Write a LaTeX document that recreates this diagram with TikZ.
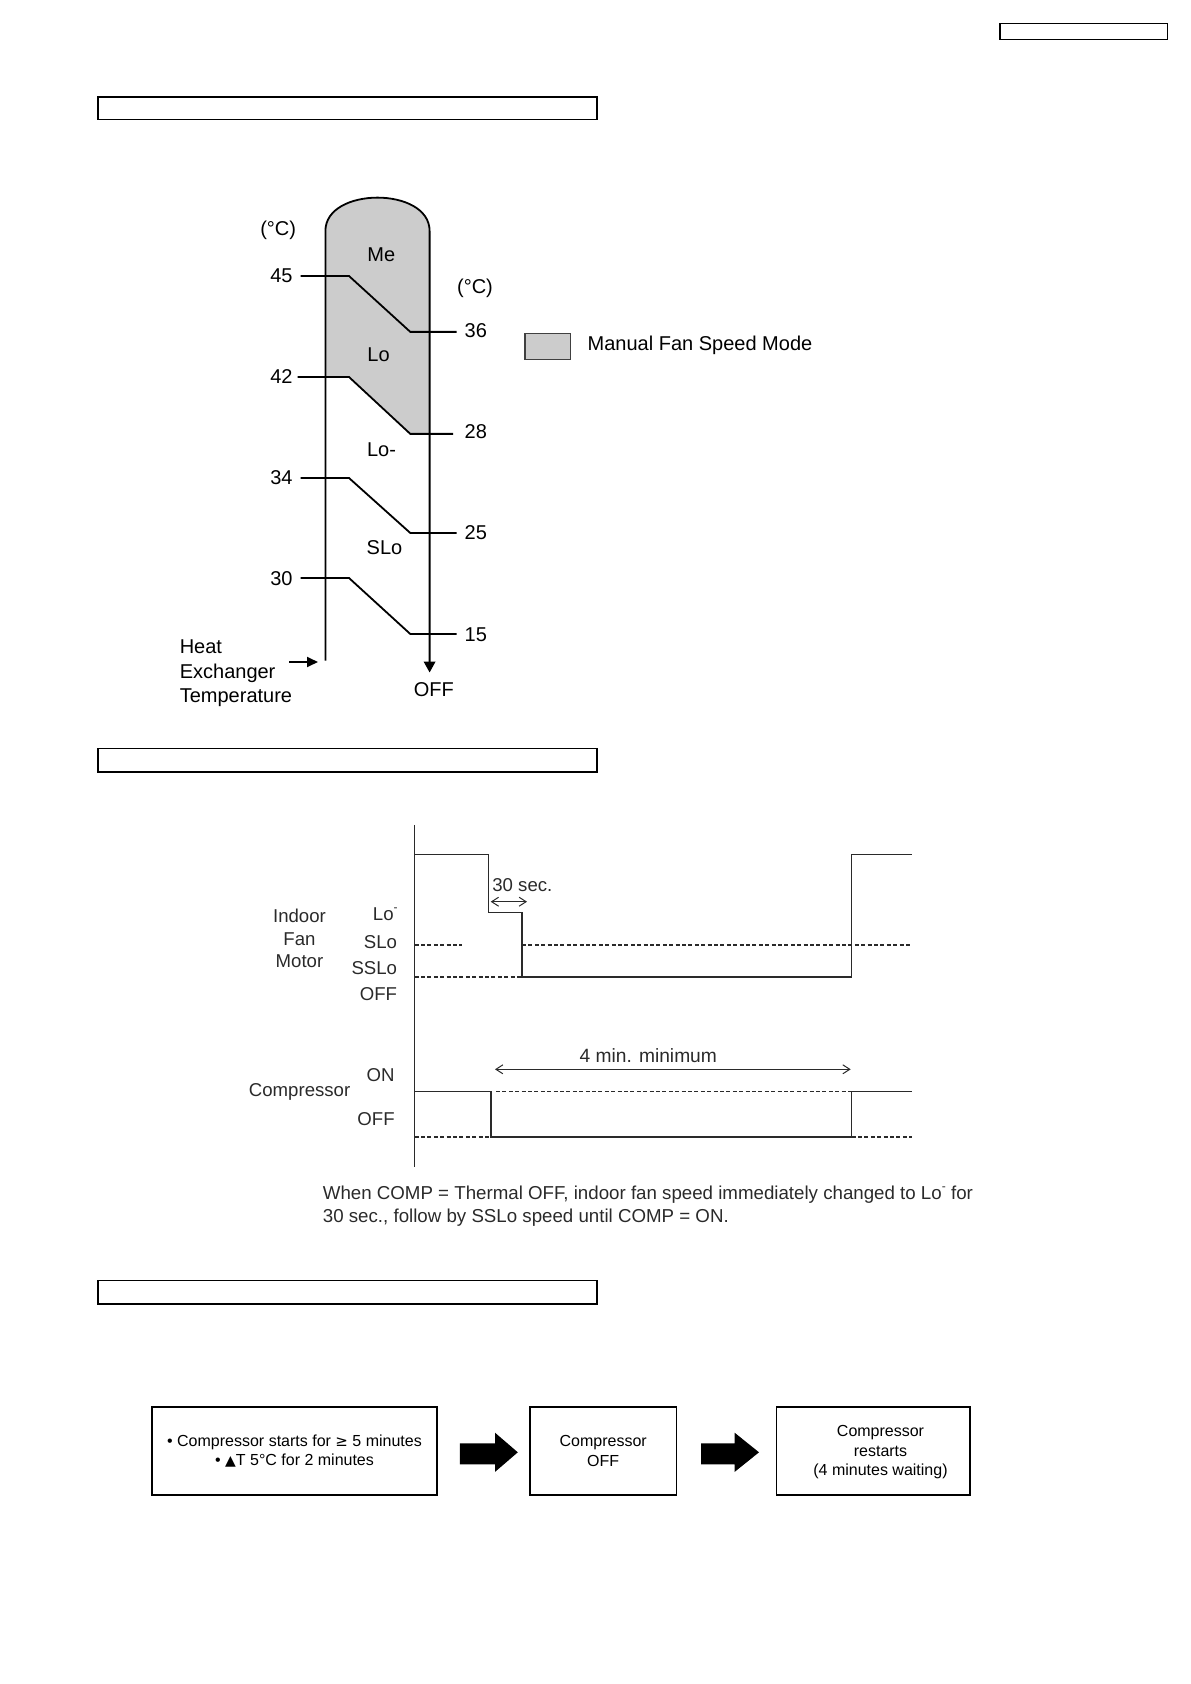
\documentclass[tikz,border=0pt]{standalone}
\usepackage{fontspec}
\setmainfont{Liberation Sans}
\newfontfamily\djv{DejaVu Sans}
\usetikzlibrary{arrows.meta}
\definecolor{fillgray}{HTML}{CCCCCC}
\definecolor{tgray}{HTML}{2A2A2A}
\newcommand\supmin{\raisebox{0.9ex}{\fontsize{6}{6}\selectfont -}}
\begin{document}
\begin{tikzpicture}[x=0.5pt,y=-0.5pt,
  hdr/.style={draw=black,line width=0.85pt},
  ln/.style={line width=0.9pt,draw=black},
  big/.style={font=\fontsize{10}{12}\selectfont,inner sep=0pt},
  tl/.style={line width=0.65pt,draw=tgray},
  td/.style={line width=0.6pt,draw=tgray,dash pattern=on 2pt off 1.2pt},
  tlab/.style={font=\fontsize{9.3}{11}\selectfont,text=tgray,inner sep=0pt},
  fbox/.style={draw=black,line width=0.75pt,minimum height=44pt,inner sep=0pt,align=center,font=\fontsize{8}{9.75}\selectfont},
  ftext/.style={inner sep=0pt,align=center,font=\fontsize{8}{9.75}\selectfont},
  barb/.style={{Straight Barb[length=3.5pt,width=4.5pt]}-{Straight Barb[length=3.5pt,width=4.5pt]},line width=0.5pt,draw=tgray}
]
\useasboundingbox (0,0) rectangle (1190,1684);

% ---- header boxes
\draw[line width=0.7pt] (999.9,23.5) rectangle (1167.4,39.7);
\draw[hdr] (97.7,96.7) rectangle (597,119.5);
\draw[hdr] (97.7,748.6) rectangle (597,772.2);
\draw[hdr] (97.7,1280.5) rectangle (597,1304);

% ---- fan speed diagram
\fill[fillgray] (325.4,377) -- (325.4,231) .. controls (325.4,186.5) and (429.6,186.5) .. (429.6,231) -- (429.6,433.9) -- (410.3,433.9) -- (349,377) -- cycle;
\coordinate (lb) at (325.4,660.5);
\coordinate (rb) at (429.6,672.5);
\draw[ln,-{Triangle[length=5.5pt,width=5.8pt]}] (lb) -- (325.4,231) .. controls (325.4,186.5) and (429.6,186.5) .. (429.6,231) -- (rb);
\draw[ln] (300.7,276) -- (349,276) -- (410.3,331.9) -- (456.5,331.9);
\draw[ln] (297.5,377) -- (349,377) -- (410.3,433.9) -- (453,433.9);
\draw[ln] (300.7,478) -- (349,478) -- (410.3,533) -- (456.5,533);
\draw[ln] (300.7,578) -- (349,578) -- (410.3,634) -- (456.5,634);

\node[big] (c1) at (278.2,230) {(°C)};
\node[big] (c2) at (475,288.5) {(°C)};
\node[big] (t45) at (281.4,275.5) {45};
\node[big] (t42) at (281.4,376.5) {42};
\node[big] (t34) at (281.4,477.5) {34};
\node[big] (t30) at (281.4,578.5) {30};
\node[big] (t36) at (475.8,331) {36};
\node[big] (t28) at (475.8,432) {28};
\node[big] (t25) at (475.8,533) {25};
\node[big] (t15) at (475.8,634.5) {15};
\node[big] (me) at (381.3,254.5) {Me};
\node[big] (lo) at (378.5,354.5) {Lo};
\node[big] (lom) at (381.5,450) {Lo-};
\node[big] (slo) at (384.5,548) {SLo};
\node[big,anchor=west,align=left,font=\fontsize{10}{12.2}\selectfont] (hx) at (179.4,673.2) {Heat\\Exchanger\\Temperature};
\node[big] (off1) at (433.9,689.5) {OFF};
\coordinate (ha) at (289.3,662);
\coordinate (hb) at (318,662);
\draw[ln,-{Triangle[length=5.5pt,width=5pt]}] (ha) -- (hb);

% legend
\draw[fill=fillgray,draw=black!75,line width=0.6pt] (525,333.3) rectangle (570.7,359.3);
\node[big,anchor=west] (leg) at (587.3,345) {Manual Fan Speed Mode};

% ---- timing chart
\draw[tl] (414.6,824.8) -- (414.6,1167.4);
\draw[tl] (414.6,854.8) -- (488.7,854.8) -- (488.7,912.5) -- (522,912.5) -- (522,977) -- (851.6,977) -- (851.6,854.8) -- (912,854.8);
\draw[td] (414.6,945) -- (461.7,945);
\draw[td] (522,945) -- (912,945);
\draw[td] (414.6,977) -- (522,977);
\coordinate (s1) at (490.7,901.7);
\coordinate (s2) at (527,901.7);
\draw[barb] (s1) -- (s2);
\node[tlab,anchor=west] (sec) at (492,885) {30 sec.};

\draw[tl] (414.6,1091.5) -- (491,1091.5) -- (491,1137) -- (851.6,1137) -- (851.6,1091.5) -- (912,1091.5);
\draw[td] (496,1091.5) -- (851.6,1091.5);
\draw[td] (414.6,1137) -- (491,1137);
\draw[td] (851.6,1137) -- (912,1137);
\coordinate (m1) at (495,1069.3);
\coordinate (m2) at (850.7,1069.3);
\draw[barb] (m1) -- (m2);
\node[tlab,font=\fontsize{9.6}{11}\selectfont] (mm) at (648.3,1056) {4 min. minimum};

\node[tlab,anchor=east] (llo) at (398,914) {Lo\supmin};
\node[tlab,anchor=east] (lslo) at (397.4,942) {SLo};
\node[tlab,anchor=east] (lsslo) at (397.4,968) {SSLo};
\node[tlab,anchor=east] (loff) at (397.4,994.5) {OFF};
\node[tlab,anchor=east] (lon) at (395,1075.5) {ON};
\node[tlab,anchor=east] (loff2) at (395,1119.5) {OFF};
\node[tlab,align=center,font=\fontsize{9.3}{11.25}\selectfont] (ifm) at (299.5,938.6) {Indoor\\Fan\\Motor};
\node[tlab] (comp) at (299.6,1091.5) {Compressor};

\node[tlab,anchor=west,align=left,font=\fontsize{9.35}{11.4}\selectfont] (cap) at (322.5,1206) {When COMP = Thermal OFF, indoor fan speed immediately changed to Lo\supmin{} for\\30 sec., follow by SSLo speed until COMP = ON.};

% ---- flow chart
\node[fbox,minimum width=142.5pt] (b1) at (294.5,1451) {• Compressor starts for {\djv\fontsize{7.5}{9}\selectfont ≥} 5 minutes\\• {\djv\fontsize{7}{9}\selectfont ▲}T 5°C for 2 minutes};
\node[fbox,minimum width=73.4pt] (b2) at (603.2,1451) {Compressor\\OFF};
\node[fbox,minimum width=96.7pt] (b3) at (873.4,1451) {};
\node[ftext] (b3t) at (880.5,1452.2) {Compressor\\restarts\\(4 minutes waiting)};
\fill (459.8,1443.3) -- (495,1443.3) -- (495,1432.7) -- (517.8,1452.3) -- (495,1471.9) -- (495,1464.3) -- (459.8,1464.3) -- cycle;
\fill (701,1443.3) -- (734.6,1443.3) -- (734.6,1432.7) -- (759,1452.3) -- (734.6,1471.9) -- (734.6,1464.3) -- (701,1464.3) -- cycle;
\end{tikzpicture}
\end{document}
